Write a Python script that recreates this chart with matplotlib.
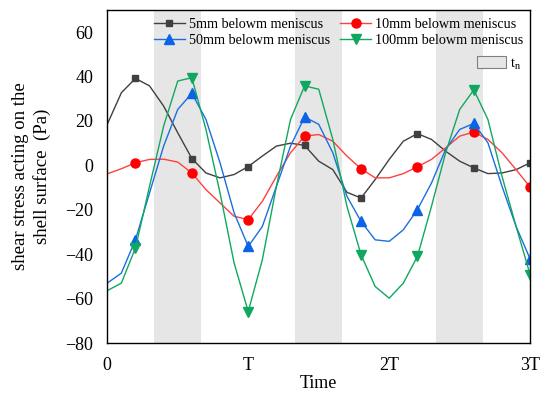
import numpy as np
import matplotlib
matplotlib.use('Agg')
import matplotlib.pyplot as plt
from matplotlib.patches import Patch

plt.rcParams['font.family'] = ['Liberation Serif', 'DejaVu Serif']
plt.rcParams['mathtext.fontset'] = 'custom'
plt.rcParams['mathtext.rm'] = 'Liberation Serif'

# time in units of the period T
t = np.round(np.arange(0, 3.01, 0.1), 1)

mm5 = [18.5, 32.7, 39.2, 35.8, 26.7, 14.7, 3.1, -3.4, -5.6, -4.1, -0.5,
       4.2, 8.7, 10.0, 9.0, 1.9, -1.9, -12.1, -14.7, -6.4, 2.7,
       10.9, 14.3, 11.7, 6.4, 1.9, -1.1, -3.7, -3.4, -1.9, 1.2]
mm10 = [-3.8, -1.5, 1.2, 2.7, 2.8, 1.5, -3.4, -10.9, -16.9, -22.9, -24.4,
        -16.2, -4.9, 5.7, 13.2, 13.9, 10.9, 4.2, -1.5, -5.6, -5.6,
        -3.7, -0.6, 2.7, 7.9, 13.2, 15.0, 11.7, 5.7, -1.9, -9.8]
mm50 = [-53.0, -48.5, -33.5, -12.4, 8.7, 25.2, 32.5, 20.7, 1.2, -21.4, -36.5,
        -27.5, -9.4, 8.7, 21.8, 18.5, 5.7, -13.9, -25.2, -33.5, -34.2,
        -29.0, -19.9, -7.9, 7.2, 16.2, 18.9, 10.2, -9.4, -27.5, -42.2]
mm100 = [-56.4, -53.0, -37.2, -9.4, 17.7, 38.0, 39.5, 16.2, -12.4, -44.0, -65.8,
         -42.5, -9.4, 20.7, 35.8, 34.3, 11.7, -18.4, -40.2, -54.5, -59.8,
         -53.0, -41.0, -18.4, 5.7, 25.2, 34.0, 20.7, -4.9, -27.5, -49.3]

labels = ['5mm belowm meniscus', '10mm belowm meniscus',
          '50mm belowm meniscus', '100mm belowm meniscus']

# shaded t_n intervals (in T)
bands = [(1/3, 2/3), (4/3, 5/3), (7/3, 8/3)]

fig = plt.figure(figsize=(5.5, 3.98), dpi=100)
ax = fig.add_axes([0.195, 0.138, 0.769, 0.837])

for a, b in bands:
    ax.axvspan(a, b, color='#e6e6e6', lw=0, zorder=0)

me = (2, 4)
l1, = ax.plot(t, mm5, color='#404040', lw=1.0, marker='s', ms=5, markevery=me, label=labels[0])
l2, = ax.plot(t, mm10, color='#ff4040', lw=1.0, marker='o', ms=6.5, mfc='red', mec='red', markevery=me, label=labels[1])
l3, = ax.plot(t, mm50, color='#1a6fe0', lw=1.0, marker='^', ms=7, mfc='#0a64e6', mec='#0a64e6', markevery=me, label=labels[2])
l4, = ax.plot(t, mm100, color='#10a860', lw=1.0, marker='v', ms=7, mfc='#10a860', mec='#10a860', markevery=me, label=labels[3])

ax.set_xlim(0, 3)
ax.set_ylim(-80, 70)
ax.set_xticks([0, 1, 2, 3])
ax.set_xticklabels(['0', 'T', '2T', '3T'])
ax.set_yticks(np.arange(-80, 61, 20))
ax.set_yticklabels([str(v).replace('-', '\u2212') for v in range(-80, 61, 20)])
ax.tick_params(length=0, labelsize=13, pad=10)
for s in ax.spines.values():
    s.set_linewidth(1.0)

ax.set_xlabel('Time', fontsize=13, labelpad=1)
ax.set_ylabel('shear stress acting on the\nshell surface  (Pa)', fontsize=13.5, labelpad=10, linespacing=1.35)

# row-major order as in the original: 5mm, 10mm / 50mm, 100mm
leg = ax.legend(handles=[l1, l3, l2, l4], ncol=2, loc='upper center', bbox_to_anchor=(0.547, 1.015),
                frameon=False, fontsize=10.2, handlelength=2.2, handletextpad=0.3,
                columnspacing=0.7, labelspacing=0.2)
ax.add_artist(leg)
ax.legend(handles=[Patch(facecolor='#e6e6e6', edgecolor='#808080', lw=0.8, label='$\\mathregular{t_n}$')],
          loc='upper right', bbox_to_anchor=(1.01, 0.9), frameon=False, fontsize=10.5,
          handlelength=2.0, handleheight=0.9, handletextpad=0.3)

fig.savefig('out.png', dpi=100)
